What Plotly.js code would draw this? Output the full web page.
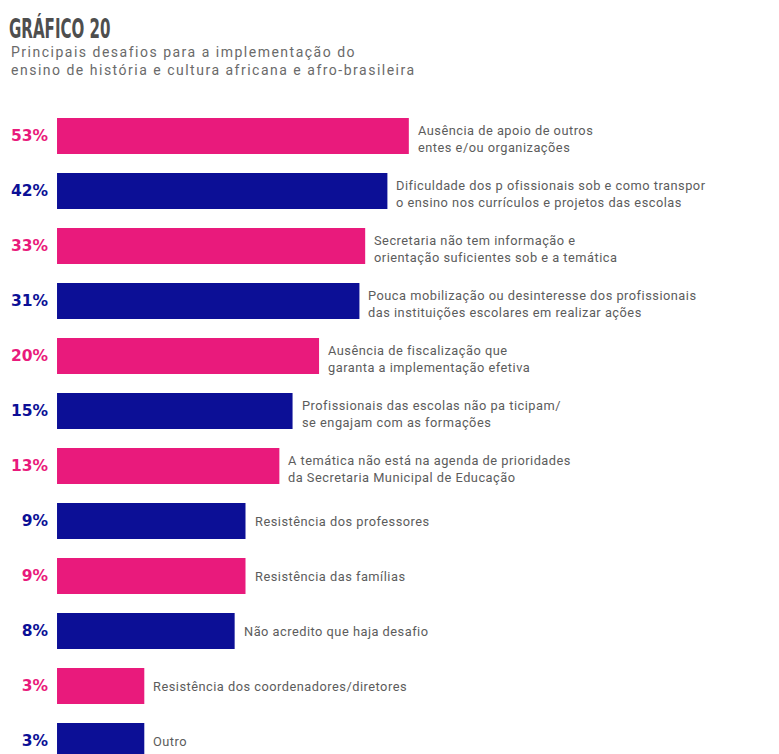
<!DOCTYPE html>
<html>
<head>
<meta charset="utf-8">
<script src="https://cdn.plot.ly/plotly-3.0.1.min.js"></script>
<style>
html,body{margin:0;padding:0;background:#fff;}
#chart{width:779px;height:754px;}
#chart .gtitle{transform-box:fill-box;transform-origin:left center;transform:scaleX(0.62);}
</style>
</head>
<body>
<div id="chart"></div>
<script>
// ---- data ----
const categories = [
  "Ausência de apoio de outros<br>entes e/ou organizações",
  "Dificuldade dos p ofissionais sob e como transpor<br>o ensino nos currículos e projetos das escolas",
  "Secretaria não tem informação e<br>orientação suficientes sob e a temática",
  "Pouca mobilização ou desinteresse dos profissionais<br>das instituições escolares em realizar ações",
  "Ausência de fiscalização que<br>garanta a implementação efetiva",
  "Profissionais das escolas não pa ticipam/<br>se engajam com as formações",
  "A temática não está na agenda de prioridades<br>da Secretaria Municipal de Educação",
  "Resistência dos professores",
  "Resistência das famílias",
  "Não acredito que haja desafio",
  "Resistência dos coordenadores/diretores",
  "Outro"
];
const values = [53, 42, 33, 31, 20, 15, 13, 9, 9, 8, 3, 3];
const valueLabels = ["53%", "42%", "33%", "31%", "20%", "15%", "13%", "9%", "9%", "8%", "3%", "3%"];
const titleText = "GRÁFICO 20";
const subtitleLines = ["Principais desafios para a implementação do", "ensino de história e cultura africana e afro-brasileira"];

// ---- styling ----
const PINK = "#e91a7c";
const NAVY = "#0c0f96";
const rowColors = values.map((v, i) => (i % 2 === 0 ? PINK : NAVY));
const idx = values.map((v, i) => i);

const W = 779, H = 754, L = 57;
const barBase = 1.163;

function spaced(str, px) {
  return str.split("<br>").map(s => "<span style=\"letter-spacing:" + px + "px\">" + s + "</span>").join("<br>");
}

const trace = {
  type: "bar",
  orientation: "h",
  x: values.map(v => v - barBase),
  base: values.map(() => barBase),
  y: idx,
  width: 0.655,
  marker: { color: rowColors, line: { width: 0 } },
  hoverinfo: "skip"
};

const annotations = categories.map((c, i) => ({
  x: Math.log10(values[i]),
  y: i,
  xref: "x",
  yref: "y",
  text: spaced(c, 0.5),
  showarrow: false,
  xanchor: "left",
  yanchor: "middle",
  align: "left",
  xshift: 7,
  yshift: c.indexOf("<br>") >= 0 ? -3 : 0,
  font: { family: "Roboto, 'Open Sans', sans-serif", size: 12.8, color: "#5c5c5c" }
}));

annotations.push({
  xref: "paper", yref: "paper",
  x: (9 - L) / (W - L), y: 1 - 42 / H,
  xanchor: "left", yanchor: "top", align: "left",
  showarrow: false,
  text: spaced(subtitleLines.join("<br>"), 1.5),
  font: { family: "Roboto, 'Open Sans', sans-serif", size: 14, color: "#6a6a6a" }
});

const layout = {
  width: W, height: H,
  margin: { l: L, r: 0, t: 0, b: 0, pad: 0 },
  paper_bgcolor: "#fff",
  plot_bgcolor: "#fff",
  showlegend: false,
  title: {
    text: "<b>" + titleText + "</b>",
    xref: "container", yref: "container",
    x: 9 / W, xanchor: "left",
    y: 1 - 29 / H, yanchor: "middle",
    font: { family: "'DejaVu Sans Condensed', 'DejaVu Sans', sans-serif", size: 27, color: "#4e4e4e" }
  },
  xaxis: {
    type: "log",
    range: [0.0655, 0.0655 + (W - L) / 212.1],
    showgrid: false, zeroline: false, showline: false,
    showticklabels: false, ticks: ""
  },
  yaxis: {
    range: [(H - 136) / 55, -136 / 55],
    tickmode: "array",
    tickvals: idx,
    ticktext: valueLabels.map((t, i) => "<span style=\"color:" + rowColors[i] + "\"><b>" + t + "</b></span>"),
    tickfont: { family: "'DejaVu Sans', sans-serif", size: 15.5, color: "#333" },
    ticks: "",
    ticklabelstandoff: 8,
    showgrid: false, zeroline: false, showline: false
  },
  annotations: annotations
};

Plotly.newPlot("chart", [trace], layout, { displayModeBar: false, staticPlot: true });
</script>
</body>
</html>
